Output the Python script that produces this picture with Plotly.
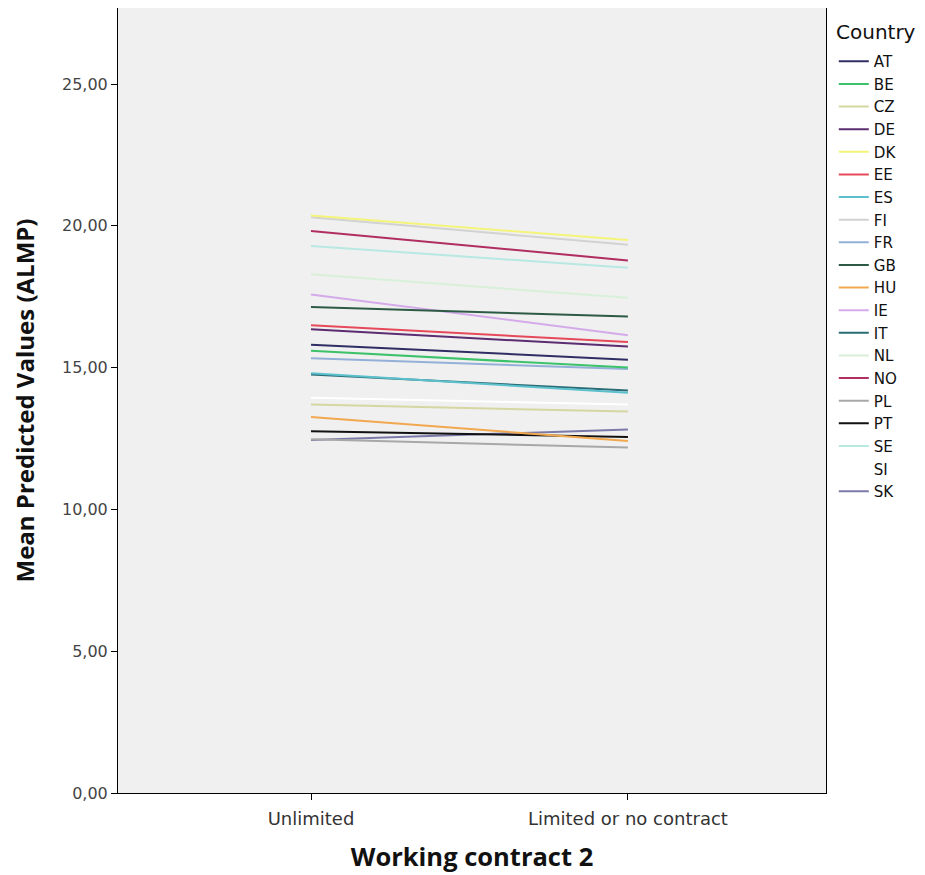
import plotly.graph_objects as go

categories = ["Unlimited", "Limited or no contract"]
countries = ["AT", "BE", "CZ", "DE", "DK", "EE", "ES", "FI", "FR", "GB",
             "HU", "IE", "IT", "NL", "NO", "PL", "PT", "SE", "SI", "SK"]
unlimited = [15.81, 15.59, 13.70, 16.35, 20.36, 16.49, 14.80, 20.30, 15.33, 17.14,
             13.26, 17.58, 14.76, 18.29, 19.82, 12.47, 12.76, 19.29, 13.94, 12.45]
limited = [15.28, 15.00, 13.45, 15.74, 19.50, 15.90, 14.11, 19.33, 14.95, 16.80,
           12.41, 16.14, 14.19, 17.46, 18.78, 12.18, 12.55, 18.52, 13.70, 12.82]
colors = ["#2e2e64", "#3cc26a", "#d6d6a2", "#5c2c70", "#f4f47a", "#e64a5a",
          "#5cc0cc", "#d2d2d2", "#94b0d8", "#2c5a44", "#f2a84e", "#d4aaea",
          "#2a6c76", "#d8f0d8", "#b02e62", "#a8a8a8", "#111111", "#b8e8e2",
          "#ffffff", "#7a7aa8"]

y_ticks = [0, 5, 10, 15, 20, 25]
legend_title = "Country"

fig = go.Figure()
# draw in reverse order so earlier countries sit on top; legend keeps original order
for i in reversed(range(len(countries))):
    fig.add_trace(go.Scatter(
        x=[0, 1], y=[unlimited[i], limited[i]], mode="lines", name=countries[i],
        line=dict(color=colors[i], width=2), legendrank=i,
    ))

fig.add_annotation(
    text=legend_title, xref="paper", yref="paper", x=1.0113, y=0.9694,
    xanchor="left", yanchor="middle", showarrow=False,
    font=dict(family="DejaVu Sans", size=20, color="#111"),
)

fig.update_layout(
    width=917, height=867,
    margin=dict(l=110, r=99, t=0, b=82),
    paper_bgcolor="white",
    plot_bgcolor="#f0f0f0",
    separators=",.",
    showlegend=True,
    legend=dict(
        font=dict(family="DejaVu Sans", size=15.1, color="#111"),
        x=1.011, xanchor="left", y=0.9529, yanchor="top",
        bgcolor="rgba(0,0,0,0)", itemwidth=30, tracegroupgap=0,
        traceorder="normal",
    ),
    xaxis=dict(
        range=[-0.609, 1.625],
        tickmode="array", tickvals=[0, 1], ticktext=categories,
        showline=True, linecolor="black", linewidth=1, mirror=True,
        ticks="outside", ticklen=6, tickcolor="black",
        showgrid=False, zeroline=False, ticklabelstandoff=3,
        tickfont=dict(family="DejaVu Sans", size=18, color="#333"),
        title=dict(text="<b>Working contract 2</b>",
                   font=dict(family="Open Sans", size=25.5, color="#111"), standoff=20),
    ),
    yaxis=dict(
        range=[0, 27.68],
        tickmode="array", tickvals=y_ticks, tickformat=".2f",
        showline=True, linecolor="black", linewidth=1, mirror=True,
        ticks="outside", ticklen=6, tickcolor="black",
        showgrid=False, zeroline=False,
        tickfont=dict(family="DejaVu Sans", size=16, color="#444"),
        title=dict(text="<b>Mean Predicted Values (ALMP)</b>",
                   font=dict(family="Open Sans", size=24, color="#111"), standoff=30),
    ),
)

fig.write_html("out.html")
